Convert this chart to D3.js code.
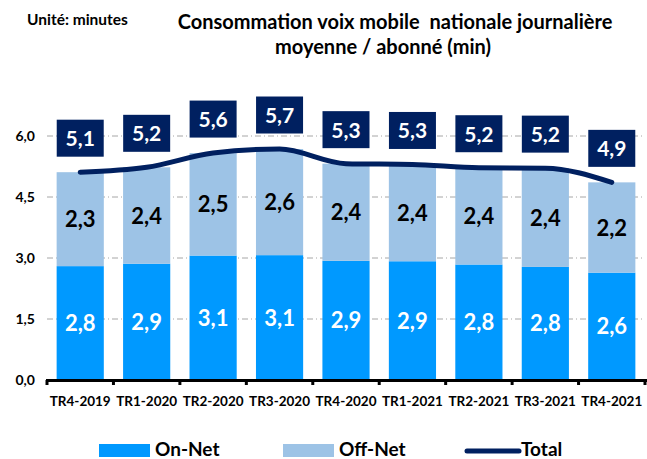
<!DOCTYPE html>
<html>
<head>
<meta charset="utf-8">
<script src="https://cdn.jsdelivr.net/npm/d3@7"></script>
<style>
  body { margin: 0; background: #fff; }
  text { font-family: Lato, "Open Sans", sans-serif; font-weight: bold; white-space: pre; }
</style>
</head>
<body>
<svg id="chart" width="647" height="459"></svg>
<script>
// data
var periods = ["TR4-2019", "TR1-2020", "TR2-2020", "TR3-2020", "TR4-2020", "TR1-2021", "TR2-2021", "TR3-2021", "TR4-2021"];
var onNet = [2.80, 2.86, 3.06, 3.07, 2.93, 2.92, 2.84, 2.78, 2.64];
var offNet = [2.31, 2.37, 2.52, 2.61, 2.39, 2.38, 2.38, 2.43, 2.22];
var total = [5.11, 5.23, 5.58, 5.68, 5.32, 5.30, 5.22, 5.21, 4.86];
var yTicks = [0, 1.5, 3.0, 4.5, 6.0];

var colors = { on: "#0099ff", off: "#9dc3e6", total: "#002060" };
var fmt = function (v) { return d3.format(".1f")(v).replace(".", ","); };

var svg = d3.select("#chart");

var x = d3.scaleBand().domain(periods).range([47, 645]).paddingInner(0.29).paddingOuter(0.145);
var y = d3.scaleLinear().domain([0, 6]).range([380, 136]);

// titles
svg.append("text").attr("x", 27).attr("y", 25).style("font-size", "15.5px").text("Unité: minutes");
svg.append("text").attr("x", 395).attr("y", 29).attr("text-anchor", "middle").style("font-size", "20px")
    .text("Consommation voix mobile  nationale journalière");
svg.append("text").attr("x", 383).attr("y", 54).attr("text-anchor", "middle").style("font-size", "20px")
    .text("moyenne / abonné (min)");

// grid lines
svg.append("g").selectAll("line").data(yTicks.slice(1)).enter().append("line")
    .attr("x1", 47).attr("x2", 645)
    .attr("y1", function (d) { return y(d); }).attr("y2", function (d) { return y(d); })
    .attr("stroke", "#a6a6a6").attr("stroke-width", 1).attr("stroke-dasharray", "6,3,1,3");

// y axis labels
svg.append("g").selectAll("text").data(yTicks).enter().append("text")
    .attr("x", 35).attr("y", function (d) { return y(d) + 5; })
    .attr("text-anchor", "end").style("font-size", "14px")
    .text(fmt);

// bars
var bars = svg.append("g").selectAll("g").data(periods).enter().append("g");
bars.append("rect")
    .attr("x", function (d) { return x(d); })
    .attr("width", x.bandwidth())
    .attr("y", function (d, i) { return y(onNet[i]); })
    .attr("height", function (d, i) { return y(0) - y(onNet[i]); })
    .attr("fill", colors.on);
bars.append("rect")
    .attr("x", function (d) { return x(d); })
    .attr("width", x.bandwidth())
    .attr("y", function (d, i) { return y(onNet[i] + offNet[i]); })
    .attr("height", function (d, i) { return y(onNet[i]) - y(onNet[i] + offNet[i]); })
    .attr("fill", colors.off);

// segment labels
bars.append("text")
    .attr("x", function (d) { return x(d) + x.bandwidth() / 2; })
    .attr("y", function (d, i) { return (y(0) + y(onNet[i])) / 2 + 8; })
    .attr("text-anchor", "middle").attr("fill", "#fff").style("font-size", "22px")
    .text(function (d, i) { return fmt(onNet[i]); });
bars.append("text")
    .attr("x", function (d) { return x(d) + x.bandwidth() / 2; })
    .attr("y", function (d, i) { return (y(onNet[i]) + y(onNet[i] + offNet[i])) / 2 + 8; })
    .attr("text-anchor", "middle").attr("fill", "#000").style("font-size", "22px")
    .text(function (d, i) { return fmt(offNet[i]); });

// x axis
var xAxis = svg.append("g");
xAxis.append("line").attr("x1", 46).attr("x2", 647).attr("y1", 380.5).attr("y2", 380.5)
    .attr("stroke", "#000").attr("stroke-width", 3);
var tickPos = periods.map(function (d) { return x(d) - x.step() * x.paddingInner() / 2; });
tickPos.push(645);
xAxis.selectAll("line.tick").data(tickPos).enter().append("line").attr("class", "tick")
    .attr("x1", function (d) { return d; }).attr("x2", function (d) { return d; })
    .attr("y1", 380).attr("y2", 385)
    .attr("stroke", "#000").attr("stroke-width", 3);
xAxis.selectAll("text").data(periods).enter().append("text")
    .attr("x", function (d) { return x(d) + x.bandwidth() / 2; })
    .attr("y", 406).attr("text-anchor", "middle").style("font-size", "13.5px")
    .text(function (d) { return d; });

// total line
var line = d3.line()
    .x(function (d, i) { return x(periods[i]) + x.bandwidth() / 2; })
    .y(function (d) { return y(d); })
    .curve(d3.curveMonotoneX);
svg.append("path").datum(total).attr("d", line)
    .attr("fill", "none").attr("stroke", colors.total).attr("stroke-width", 5).attr("stroke-linecap", "round");

// total label boxes
var boxes = svg.append("g").selectAll("g").data(total).enter().append("g")
    .attr("transform", function (d, i) {
        return "translate(" + (x(periods[i]) + x.bandwidth() / 2) + "," + (y(d) - 34) + ")";
    });
boxes.append("rect").attr("x", -23.5).attr("y", -18.5).attr("width", 47).attr("height", 37).attr("fill", colors.total);
boxes.append("text").attr("y", 8).attr("text-anchor", "middle").attr("fill", "#fff").style("font-size", "21px")
    .text(fmt);

// legend
var legend = svg.append("g");
legend.append("rect").attr("x", 99).attr("y", 444).attr("width", 51).attr("height", 13).attr("fill", colors.on);
legend.append("text").attr("x", 155).attr("y", 456).style("font-size", "19px").text("On-Net");
legend.append("rect").attr("x", 283).attr("y", 444).attr("width", 51).attr("height", 13).attr("fill", colors.off);
legend.append("text").attr("x", 339).attr("y", 456).style("font-size", "19px").text("Off-Net");
legend.append("line").attr("x1", 467).attr("x2", 519).attr("y1", 451).attr("y2", 451)
    .attr("stroke", colors.total).attr("stroke-width", 5).attr("stroke-linecap", "round");
legend.append("text").attr("x", 521).attr("y", 456).style("font-size", "19px").text("Total");
</script>
</body>
</html>
